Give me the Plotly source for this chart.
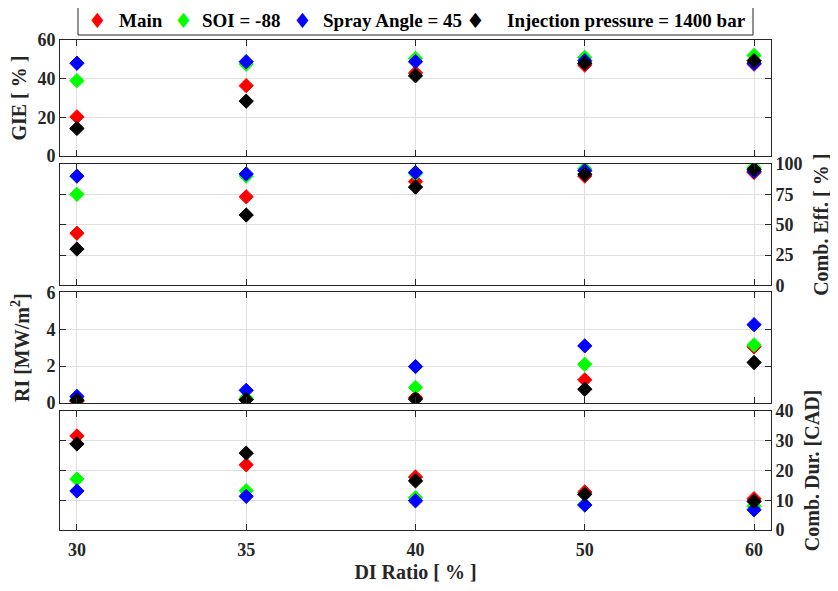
import plotly.graph_objects as go

di_ratio = ["30", "35", "40", "50", "60"]
series_names = ["Main", "SOI = -88", "Spray Angle = 45", "Injection pressure = 1400 bar"]
colors = ["#FF0000", "#00FF00", "#0000FF", "#000000"]

gie = {
    "Main": [20.3, 36.4, 43.0, 47.0, 47.5],
    "SOI = -88": [39.0, 47.5, 50.5, 51.0, 52.0],
    "Spray Angle = 45": [48.0, 48.8, 48.8, 49.3, 48.0],
    "Injection pressure = 1400 bar": [14.3, 28.4, 41.5, 48.0, 49.3],
}
comb_eff = {
    "Main": [43.0, 73.0, 85.5, 90.0, 93.0],
    "SOI = -88": [75.0, 90.0, 92.0, 96.0, 97.0],
    "Spray Angle = 45": [90.0, 91.8, 93.0, 94.5, 94.0],
    "Injection pressure = 1400 bar": [30.0, 58.0, 81.0, 91.5, 95.6],
}
ri = {
    "Main": [0.1, 0.2, 0.3, 1.26, 3.05],
    "SOI = -88": [0.2, 0.27, 0.85, 2.1, 3.15],
    "Spray Angle = 45": [0.36, 0.69, 1.98, 3.1, 4.25],
    "Injection pressure = 1400 bar": [0.15, 0.18, 0.22, 0.75, 2.2],
}
comb_dur = {
    "Main": [31.6, 21.9, 17.8, 12.8, 10.5],
    "SOI = -88": [17.1, 13.2, 10.8, 8.5, 8.0],
    "Spray Angle = 45": [13.1, 11.3, 9.8, 8.4, 6.8],
    "Injection pressure = 1400 bar": [28.9, 25.8, 16.5, 12.0, 9.6],
}

panels = [gie, comb_eff, ri, comb_dur]
FONT = "Liberation Serif"
AX = "#262626"
GRID = "#dfdfdf"

fig = go.Figure()
for p, data in enumerate(panels):
    xa = "x" if p == 0 else f"x{p+1}"
    ya = "y" if p == 0 else f"y{p+1}"
    for name, col in zip(series_names, colors):
        fig.add_trace(go.Scatter(
            x=di_ratio, y=data[name], mode="markers", name=name,
            marker=dict(symbol="diamond", size=11, color=col,
                        line=dict(color=col, width=1)),
            showlegend=False, legendgroup=name,
            xaxis=xa, yaxis=ya,
        ))

domains = [[0.763, 1.0], [0.499, 0.747], [0.259, 0.485], [0.0, 0.243]]
yranges = [[0, 60], [0, 100], [0, 6], [0, 40]]
ytick_vals = [[0, 20, 40, 60], [0, 25, 50, 75, 100], [0, 2, 4, 6], [0, 10, 20, 30, 40]]
ytitles = ["GIE [ % ]", "Comb. Eff. [ % ]", "RI [MW/m<sup>2</sup>]", "Comb. Dur. [CAD]"]
sides = ["left", "right", "left", "right"]
standoffs = [11, 12, 11, 12]

tickfont = dict(family=FONT, size=18, color=AX, weight="bold")
titlefont = dict(family=FONT, size=20, color=AX, weight="bold")

layout = dict(
    width=830, height=583,
    margin=dict(l=52, r=67, t=32, b=61, autoexpand=False),
    plot_bgcolor="white", paper_bgcolor="white",
    showlegend=False,
)
for p in range(4):
    xk = "xaxis" if p == 0 else f"xaxis{p+1}"
    yk = "yaxis" if p == 0 else f"yaxis{p+1}"
    ya = "y" if p == 0 else f"y{p+1}"
    layout[xk] = dict(
        type="category", range=[-0.1, 4.1], anchor=ya,
        showline=True, linecolor=AX, linewidth=1, mirror="ticks",
        ticks="inside", ticklen=6, tickcolor=AX,
        showgrid=True, gridcolor=GRID, gridwidth=1,
        showticklabels=(p == 3), tickfont=tickfont,
        zeroline=False,
    )
    if p > 0:
        layout[xk]["matches"] = "x"
    if p == 3:
        layout[xk]["title"] = dict(text="DI Ratio [ % ]", font=titlefont, standoff=6)
        layout[xk]["ticklabelstandoff"] = 3
    layout[yk] = dict(
        domain=domains[p], range=yranges[p], side=sides[p],
        tickvals=ytick_vals[p], anchor="x" if p == 0 else f"x{p+1}",
        showline=True, linecolor=AX, linewidth=1, mirror="ticks",
        ticks="inside", ticklen=6, tickcolor=AX,
        showgrid=True, gridcolor=GRID, gridwidth=1,
        tickfont=tickfont, zeroline=False,
        title=dict(text=ytitles[p], font=titlefont, standoff=standoffs[p]),
    )

fig.update_layout(**layout)

# Manual legend box (paper coordinates)
fig.add_shape(type="rect", xref="paper", yref="paper",
              x0=0.0253, x1=0.9747, y0=1.0102, y1=1.0673,
              line=dict(color=AX, width=1), fillcolor="white", layer="below")
leg_marker_x = [0.0534, 0.173, 0.3404, 0.5837]
leg_text_x = [0.0802, 0.1969, 0.3671, 0.6259]
leg_y = 1.0388
for name, col, mx, tx in zip(series_names, colors, leg_marker_x, leg_text_x):
    fig.add_annotation(xref="paper", yref="paper", x=mx, y=leg_y,
                       text="♦", showarrow=False, xanchor="center", yanchor="middle",
                       font=dict(family="DejaVu Sans", size=21, color=col))
    fig.add_annotation(xref="paper", yref="paper", x=tx, y=leg_y,
                       text=name, showarrow=False, xanchor="left", yanchor="middle",
                       font=dict(family=FONT, size=19, color="black", weight="bold"))

fig.write_html("out.html")
